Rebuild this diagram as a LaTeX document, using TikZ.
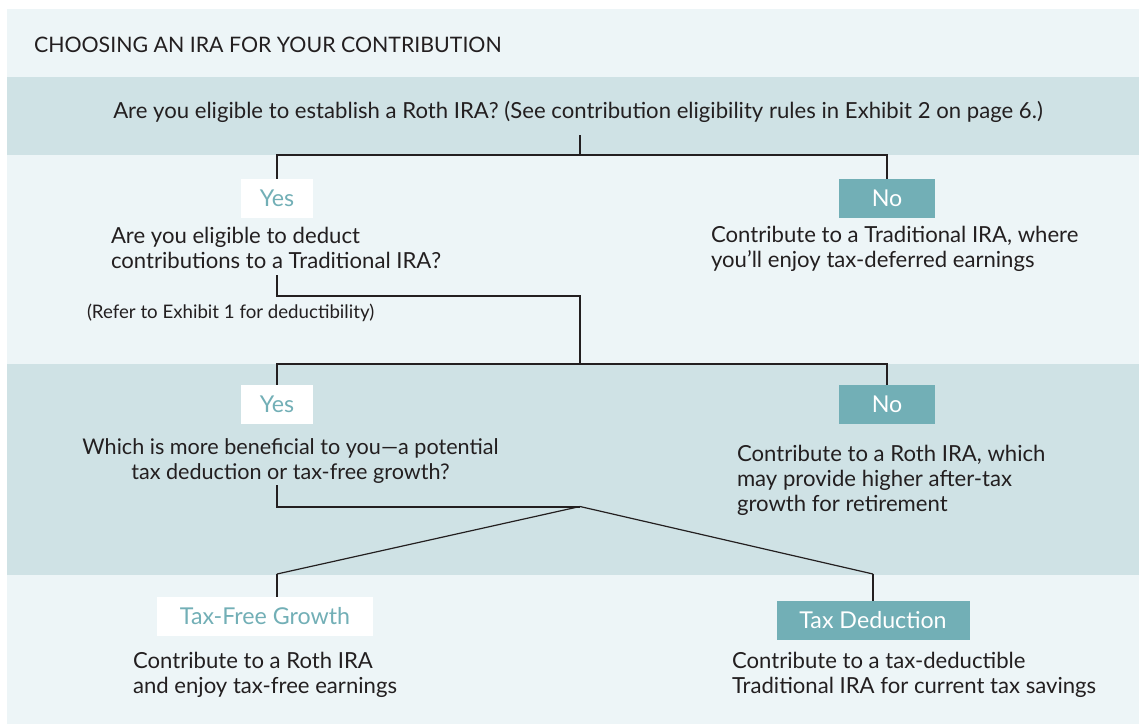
\documentclass[tikz,border=0pt]{standalone}
\usepackage{fontspec}
\setmainfont{Lato}
\definecolor{bandlight}{HTML}{EDF5F7}
\definecolor{banddark}{HTML}{CFE2E5}
\definecolor{teal}{HTML}{72AFB6}
\definecolor{ink}{HTML}{231F20}
\begin{document}
\begin{tikzpicture}[x=0.75pt,y=-0.75pt,
  txt/.style={inner sep=0pt, outer sep=0pt, text=ink, font=\fontsize{16.6}{18.75}\selectfont, align=left},
  whitebox/.style={fill=white, text=teal, inner sep=0pt, font=\fontsize{17.4}{20}\selectfont},
  tealbox/.style={fill=teal, text=white, inner sep=0pt, font=\fontsize{17.4}{20}\selectfont},
  conn/.style={draw=ink, line width=1.5pt},
  diag/.style={draw=ink, line width=0.9pt}]
\useasboundingbox (0,0) rectangle (1139,725);
\fill[white] (0,0) rectangle (1139,725);
\fill[bandlight] (7,9) rectangle (1139,724);
\fill[banddark] (7,77) rectangle (1139,155);
\fill[banddark] (7,364) rectangle (1139,575);

\node[txt, anchor=base west, font=\fontsize{16}{18}\selectfont] (title) at (34,52.3) {CHOOSING AN IRA FOR YOUR CONTRIBUTION};
\node[txt, anchor=base] (q1) at (578,118.3) {Are you eligible to establish a Roth IRA? (See contribution eligibility rules in Exhibit 2 on page 6.)};

\node[whitebox, minimum width=54pt, minimum height=29.25pt] (yes1) at (277,198.5) {Yes};
\node[tealbox, minimum width=72pt, minimum height=29.25pt] (no1) at (887,198.5) {No};

\node[txt, anchor=base west] (q2) at (111,268.3) {Are you eligible to deduct\\contributions to a Traditional IRA?};
\node[txt, anchor=base west] (no1t) at (711,267.7) {Contribute to a Traditional IRA, where\\you’ll enjoy tax-deferred earnings};
\node[txt, anchor=base west, font=\fontsize{14}{16}\selectfont] (refer) at (87,318.5) {(Refer to Exhibit 1 for deductibility)};

\node[whitebox, minimum width=54pt, minimum height=29.25pt] (yes2) at (277,404.5) {Yes};
\node[tealbox, minimum width=72pt, minimum height=29.25pt] (no2) at (887,404.5) {No};

\node[txt, anchor=base, align=center, font=\fontsize{16.2}{18.75}\selectfont] (q3) at (290.5,479) {Which is more beneficial to you—a potential\\tax deduction or tax-free growth?};
\node[txt, anchor=base west] (no2t) at (737,511) {Contribute to a Roth IRA, which\\may provide higher after-tax\\growth for retirement};

\node[whitebox, minimum width=162pt, minimum height=29.25pt] (tfg) at (265,616.5) {Tax-Free Growth};
\node[tealbox, minimum width=144.75pt, minimum height=29.25pt] (td) at (873,620.5) {Tax Deduction};

\node[txt, anchor=base west] (bl) at (133,693.3) {Contribute to a Roth IRA\\and enjoy tax-free earnings};
\node[txt, anchor=base west] (br) at (732,693.3) {Contribute to a tax-deductible\\Traditional IRA for current tax savings};

\coordinate (t1) at (580,135);
\coordinate (j1) at (580,155);
\coordinate (t2) at (277,275);
\coordinate (j2a) at (580,296);
\coordinate (j2) at (580,364);
\coordinate (t3) at (277,485);
\coordinate (j3) at (580,506.5);
\coordinate (k1) at (277,574);
\coordinate (k2) at (873,574);

\draw[conn] (t1) -- (j1);
\draw[conn] (j1) -| (yes1.north);
\draw[conn] (j1) -| (no1.north);
\draw[conn] (t2) |- (j2a) -- (j2);
\draw[conn] (j2) -| (yes2.north);
\draw[conn] (j2) -| (no2.north);
\draw[conn] (t3) |- (j3);
\draw[diag] (j3) -- (k1);
\draw[diag] (j3) -- (k2);
\draw[conn] (k1) -- (k1 |- tfg.north);
\draw[conn] (k2) -- (td.north);
\end{tikzpicture}
\end{document}
